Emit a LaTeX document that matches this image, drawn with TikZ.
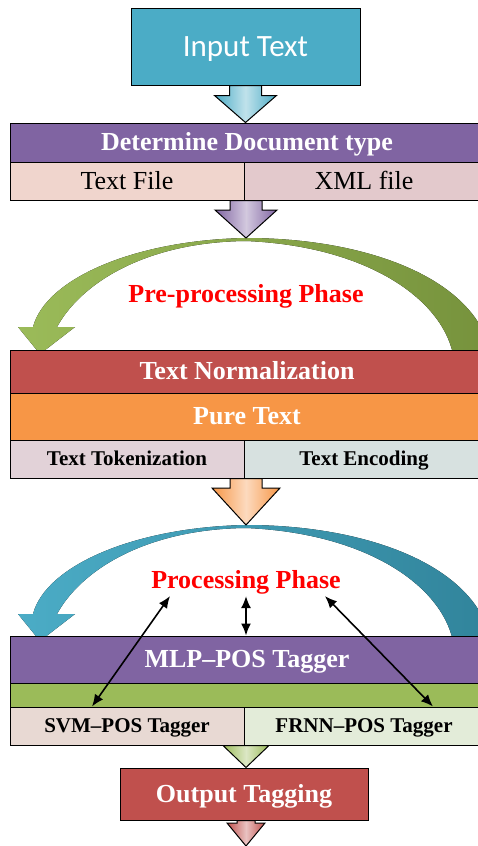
\documentclass[tikz,border=0pt]{standalone}
\usepackage{fontspec}
\setmainfont{Liberation Serif}
\newfontfamily\calibri{Carlito}
\usetikzlibrary{arrows.meta,calc}

\definecolor{accblue}{HTML}{4BACC6}
\definecolor{accbluedark}{HTML}{31849B}
\definecolor{accpurple}{HTML}{8064A2}
\definecolor{accred}{HTML}{C0504D}
\definecolor{accorange}{HTML}{F79646}
\definecolor{accgreen}{HTML}{9BBB59}
\definecolor{accgreendark}{HTML}{76923C}
\definecolor{filecell}{HTML}{F0D5CD}
\definecolor{xmlcell}{HTML}{E3C9CC}
\definecolor{tokcell}{HTML}{E2D2D8}
\definecolor{enccell}{HTML}{D7E1E0}
\definecolor{svmcell}{HTML}{E8D9D3}
\definecolor{frnncell}{HTML}{E3ECD9}

\newcommand{\headfont}{\fontsize{26}{30}\selectfont\bfseries}
\newcommand{\cellfont}{\fontsize{21}{25}\selectfont\bfseries}

% block arrow: colour, start, tip, shaft half width, head half width, head length
\newcommand{\blockarrow}[6]{%
  \draw[blockline, left color=#1, right color=#1, middle color=#1!35!white]
    ($(#2)+(-#4,0)$) -- ($(#3)+(-#4,-#6)$) -- ($(#3)+(-#5,-#6)$) -- (#3)
    -- ($(#3)+(#5,-#6)$) -- ($(#3)+(#4,-#6)$) -- ($(#2)+(#4,0)$) -- cycle;}

% curved phase arrow: top point, left colour, right colour
\newcommand{\phasearc}[3]{%
  \fill[left color=#2, right color=#3, shift={(#1)}]
    (0,0) .. controls (-110,2) and (-200,40) .. (-213,89)
    -- (-228,89) -- (-206,116) -- (-171,89) -- (-189,89)
    .. controls (-165,45) and (-100,4) .. (0,3)
    .. controls (120,8) and (195,60) .. (207,116)
    -- (245,116) .. controls (230,40) and (120,0) .. (0,0) -- cycle;}

\begin{document}
\begin{tikzpicture}[x=1pt, y=-1pt,
    bar/.style={rectangle, draw=black, line width=1pt, minimum width=474, text=white, font=\headfont, inner sep=0pt, text height=17.5pt, text depth=1.5pt},
    leftcell/.style={rectangle, draw=black, line width=1pt, minimum width=234, minimum height=38, inner sep=0pt, text height=14pt, text depth=0.5pt},
    rightcell/.style={leftcell, minimum width=240},
    phase/.style={text=red, font=\headfont, inner sep=2pt},
    link/.style={{Latex[length=12pt,width=10pt]}-{Latex[length=12pt,width=10pt]}, line width=1.6pt},
    blockline/.style={draw=black, line width=1pt}
]
\useasboundingbox (0,0) rectangle (478,846);

% Input
\node[rectangle, draw=black, line width=1pt, fill=accblue, minimum width=229, minimum height=77, text=white, text height=20pt, text depth=0.5pt, font=\calibri\fontsize{31}{36}\selectfont] (input) at (245.5,46.5) {Input Text};

% Document type
\node[bar, fill=accpurple, minimum height=39] (doctype) at (247,142.5) {Determine Document type};
\node[leftcell, fill=filecell, text height=17.5pt, text depth=1.5pt, font=\fontsize{26}{30}\selectfont] (txtfile) at (127,181) {Text File};
\node[rightcell, fill=xmlcell, text height=17.5pt, text depth=1.5pt, font=\fontsize{26}{30}\selectfont] (xmlfile) at (364,181) {XML file};

% Pre-processing phase
\coordinate (axis) at (246,0);
\coordinate (pretop) at (246,238);
\phasearc{pretop}{accgreen}{accgreendark}
\node[phase] (prelabel) at (246,296) {Pre-processing Phase};
\node[bar, fill=accred, minimum height=43] (norm) at (247,371.5) {Text Normalization};
\node[bar, fill=accorange, minimum height=47] (pure) at (247,416.5) {Pure Text};
\node[leftcell, fill=tokcell, font=\cellfont] (tok) at (127,459) {Text Tokenization};
\node[rightcell, fill=enccell, font=\cellfont] (enc) at (364,459) {Text Encoding};

% Processing phase
\coordinate (proctop) at (246,525);
\phasearc{proctop}{accblue}{accbluedark}
\node[phase] (proclabel) at (246,582) {Processing Phase};
\node[bar, fill=accpurple, minimum height=47] (mlp) at (247,659.5) {MLP--POS Tagger};
\node[bar, fill=accgreen, minimum height=24] (gbar) at (247,695) {};
\node[leftcell, fill=svmcell, font=\cellfont] (svm) at (127,726) {SVM--POS Tagger};
\node[rightcell, fill=frnncell, font=\cellfont] (frnn) at (364,726) {FRNN--POS Tagger};

% Output
\node[rectangle, draw=black, line width=1pt, fill=accred, minimum width=248, minimum height=52, text=white, text height=17.5pt, text depth=1.5pt, font=\headfont] (out) at (244,794) {Output Tagging};
\coordinate (outtip) at (246,846);

% Block arrows
\blockarrow{accblue}{input.south}{input.south |- doctype.north}{16}{31}{27}
\blockarrow{accpurple}{axis |- txtfile.south}{pretop}{16}{31}{28}
\blockarrow{accorange}{axis |- tok.south}{proctop}{16}{34}{37}
\blockarrow{accgreen}{axis |- svm.south}{axis |- out.north}{12}{23}{22}
\blockarrow{accred}{axis |- out.south}{outtip}{9}{19}{23}

% Taggers to phase
\draw[link] ([xshift=-76]proclabel.south) -- ([xshift=-35]svm.north);
\draw[link] (proclabel.south) -- (proclabel.south |- mlp.north);
\draw[link] ([xshift=79]proclabel.south) -- ([xshift=69]frnn.north);

\end{tikzpicture}
\end{document}
